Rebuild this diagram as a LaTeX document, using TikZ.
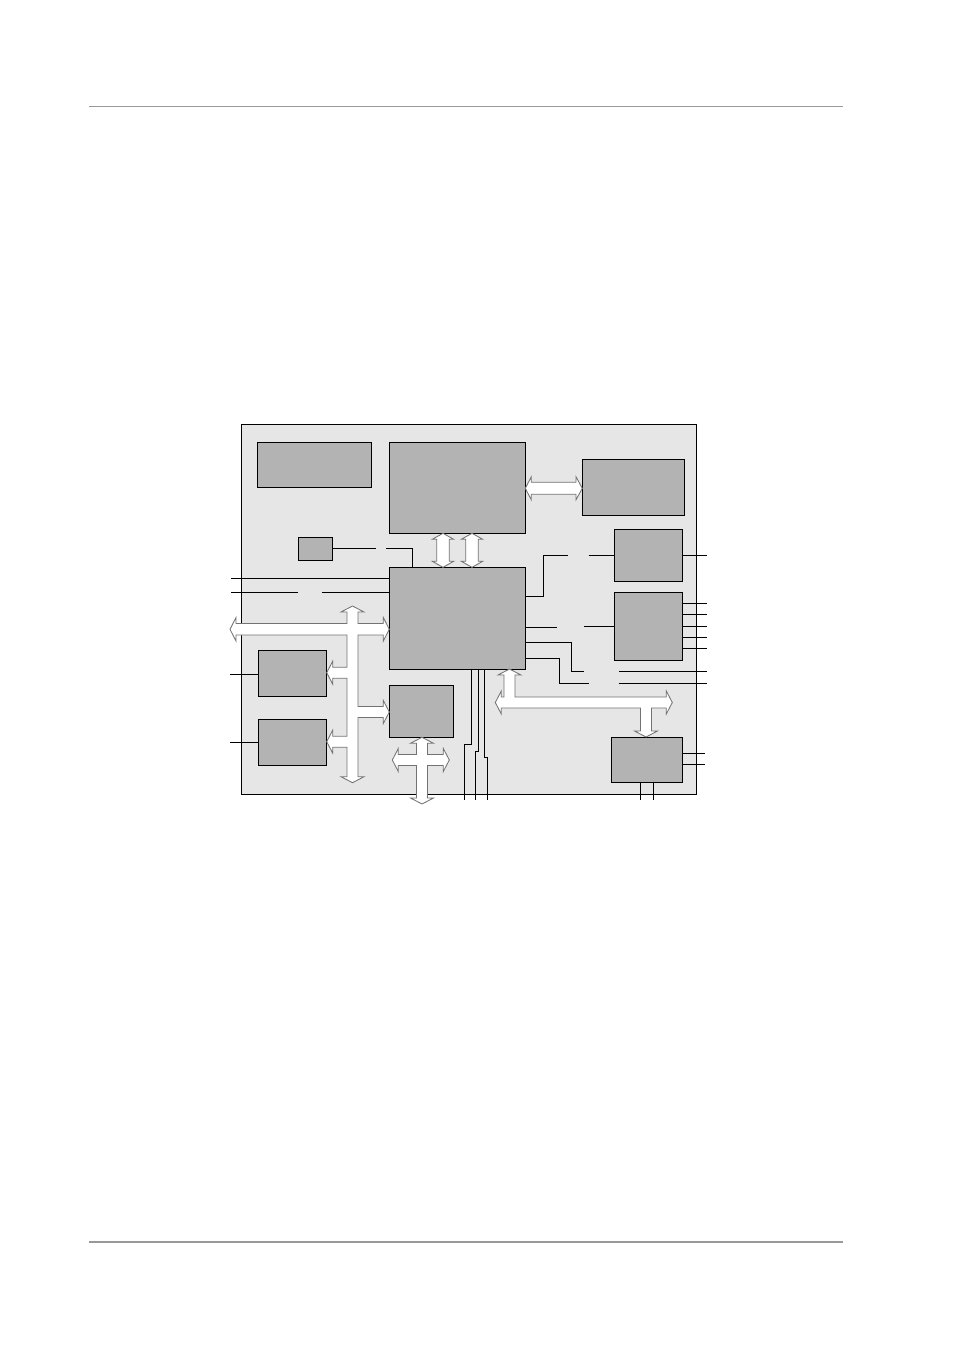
\documentclass[tikz,border=0pt]{standalone}
\usetikzlibrary{fit}
\definecolor{pagegray}{HTML}{999999}
\definecolor{boardfill}{HTML}{E6E6E6}
\definecolor{blockfill}{HTML}{B3B3B3}
\definecolor{busedge}{HTML}{737373}
\tikzset{
  board/.style={draw=black, fill=boardfill, line width=0.9pt, inner sep=0pt, outer sep=0pt},
  blk/.style={draw=black, fill=blockfill, line width=0.9pt, inner sep=0pt, outer sep=0pt},
  wire/.style={draw=black, line width=0.9pt},
  bus/.style={draw=busedge, fill=white, line width=0.85pt, line join=miter},
  rule/.style={draw=pagegray, line width=1.8pt}
}
\begin{document}
\begin{tikzpicture}[x=1pt,y=-1pt]
\useasboundingbox (0,0) rectangle (954,1351);
% page rules
\coordinate (tl) at (89,106.5); \coordinate (tr) at (843,106.5);
\coordinate (bl) at (89,1242); \coordinate (br) at (843,1242);
\draw[rule] (tl) -- (tr);
\draw[rule] (bl) -- (br);

% board
\node[board, fit={(241.3,424.3) (696.7,794)}] (board) {};

% blocks
\node[blk, fit={(257.3,442.3) (371.7,487.3)}] (A) {};
\node[blk, fit={(389.3,442.3) (525.3,533.3)}] (B) {};
\node[blk, fit={(298.3,537.3) (332.7,560.3)}] (C) {};
\node[blk, fit={(389.3,567.3) (525.3,669)}] (cpu) {};
\node[blk, fit={(582.3,459.3) (684.3,515.3)}] (D) {};
\node[blk, fit={(614.3,529.3) (682.3,581.3)}] (E) {};
\node[blk, fit={(614.3,592.3) (682.3,660.3)}] (F) {};
\node[blk, fit={(611.7,737) (682.3,782.3)}] (G) {};
\node[blk, fit={(258.3,650.3) (326.7,696.3)}] (H) {};
\node[blk, fit={(258.3,719.3) (326.7,765.3)}] (I) {};
\node[blk, fit={(389.3,685.7) (453.3,737.3)}] (J) {};

% wires, upper left
\draw[wire] (C.east) -- ++(43.3,0);
\draw[wire] (386,548.8) -| (412.3,567.3);
\draw[wire] (231,578.3) -- (389.3,578.3);
\draw[wire] (231,592.3) -- (298,592.3);
\draw[wire] (322,592.3) -- (389.3,592.3);
\draw[wire] (230,674) -- (258.3,674);
\draw[wire] (230,742.3) -- (I.west);

% wires, right
\draw[wire] (525.3,596) -| (543.3,555.3) -- (567.7,555.3);
\draw[wire] (588.7,555.3) -- (E.west);
\draw[wire] (E.east) -- (706.7,555.3);
\draw[wire] (525.3,627) -- (556.7,627);
\draw[wire] (584,626.3) -- (F.west);
\foreach \yy in {603.3,614.3,626,637.3,648.3}
  \draw[wire] (682.3,\yy) -- (707.3,\yy);
\draw[wire] (525.3,642.3) -| (571.3,671.3) -- (584,671.3);
\draw[wire] (619.3,671.3) -- (707.3,671.3);
\draw[wire] (525.3,658.3) -| (559.3,683.3) -- (588.7,683.3);
\draw[wire] (618.7,683.3) -- (707.3,683.3);
\foreach \yy in {753.7,764}
  \draw[wire] (682.3,\yy) -- (705,\yy);
\foreach \xx in {640,653.3}
  \draw[wire] (\xx,782.3) -- (\xx,800);

% wires, cpu bottom
\draw[wire] (471.7,669) -- (471.7,744.3) -- (464.3,744.3) -- (464.3,800);
\draw[wire] (478.7,669) -- (478.7,751.3) -- (475.3,751.3) -- (475.3,800);
\draw[wire] (484,669) -- (484,757.7) -- (487,757.7) -- (487,800);

% bus arrows B <-> cpu
\foreach \cx in {443,472}
  \draw[bus] (\cx,533.3) -- (\cx+10.7,539.3) -- (\cx+6.3,539.3) -- (\cx+6.3,561.3)
    -- (\cx+10.7,561.3) -- (\cx,567.3) -- (\cx-10.7,561.3) -- (\cx-6.3,561.3)
    -- (\cx-6.3,539.3) -- (\cx-10.7,539.3) -- cycle;

% bus arrow B <-> D
\draw[bus] (525.3,488.3) -- (531.3,476.8) -- (531.3,482.3) -- (576,482.3) -- (576,476.8)
  -- (582.3,488.3) -- (576,499.8) -- (576,494.3) -- (531.3,494.3) -- (531.3,499.8) -- cycle;

% left bus (cross)
\draw[bus] (352.5,606) -- (364,612) -- (358,612) -- (358,623.5) -- (383.3,623.5)
  -- (383.3,617.5) -- (389.3,629.3) -- (383.3,641) -- (383.3,635) -- (358,635)
  -- (358,706.5) -- (383.3,706.5) -- (383.3,700.5) -- (389.3,712) -- (383.3,723.5)
  -- (383.3,717.5) -- (358,717.5) -- (358,776.7) -- (364,776.7) -- (352.5,782.7)
  -- (341,776.7) -- (347,776.7) -- (347,747.2) -- (332.7,747.2) -- (332.7,753.2)
  -- (326.7,741.7) -- (332.7,730.2) -- (332.7,736.2) -- (347,736.2) -- (347,678.2)
  -- (332.7,678.2) -- (332.7,684.2) -- (326.7,672.7) -- (332.7,661.2) -- (332.7,667.2)
  -- (347,667.2) -- (347,635) -- (236,635) -- (236,641) -- (230,629.3) -- (236,617.5)
  -- (236,623.5) -- (347,623.5) -- (347,612) -- (341,612) -- cycle;

% right bus
\draw[bus] (509.5,669) -- (521,675) -- (515,675) -- (515,697) -- (666.3,697)
  -- (666.3,691) -- (672.3,702.5) -- (666.3,714) -- (666.3,708) -- (651.5,708)
  -- (651.5,731) -- (657.5,731) -- (646,737) -- (634.5,731) -- (640.5,731)
  -- (640.5,708) -- (501.3,708) -- (501.3,714) -- (495.3,702.5) -- (501.3,691)
  -- (501.3,697) -- (504,697) -- (504,675) -- (498,675) -- cycle;

% cross bus under J
\draw[bus] (422,737.3) -- (433.5,743.3) -- (427.5,743.3) -- (427.5,754.5) -- (443.3,754.5)
  -- (443.3,748.5) -- (449.3,760) -- (443.3,771.5) -- (443.3,765.5) -- (427.5,765.5)
  -- (427.5,798) -- (433.5,798) -- (422,804) -- (410.5,798) -- (416.5,798)
  -- (416.5,765.5) -- (398.3,765.5) -- (398.3,771.5) -- (392.3,760) -- (398.3,748.5)
  -- (398.3,754.5) -- (416.5,754.5) -- (416.5,743.3) -- (410.5,743.3) -- cycle;
\end{tikzpicture}
\end{document}
